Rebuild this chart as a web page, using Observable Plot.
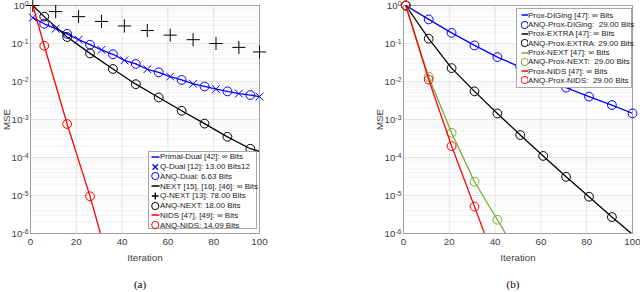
<!DOCTYPE html>
<html><head><meta charset="utf-8">
<script src="https://cdn.jsdelivr.net/npm/d3@7"></script>
<script src="https://cdn.jsdelivr.net/npm/@observablehq/plot@0.6"></script>
<style>
html,body{margin:0;padding:0;background:#fff;}
#wrap{position:relative;width:640px;height:292px;font-family:"Liberation Sans",Arial,Helvetica,sans-serif;overflow:hidden;background:#fff}
.panel{position:absolute;top:0;}
.legend{position:absolute;background:#fff;border:1px solid #a8a8a8;font-size:8px;color:#1a1a1a;box-sizing:border-box}
.legend .row{position:absolute;left:0;white-space:pre;display:flex;align-items:center}
.legend svg{display:block;flex:none}
.cap{position:absolute;font-family:"Liberation Serif","Times New Roman",serif;font-size:11px;color:#000;transform:translateX(-50%);top:278px}
</style></head>
<body><div id="wrap"></div>
<script>
// ---------- shared axis values ----------
const xTicks = [0, 20, 40, 60, 80, 100];
const yTicks = [1e-6, 1e-5, 1e-4, 1e-3, 1e-2, 1e-1, 1];

// ---------- panel (a) ----------
const primalDualIter = [1,6,11,16,21,26,31,36,41,46,51,56,61,66,71,76,81,86,91,96,100];
const primalDualMSE  = [0.48,0.33,0.245,0.18,0.126,0.093,0.068,0.052,0.036,0.029,0.021,0.0174,0.0135,0.011,0.0087,0.0074,0.0063,0.0055,0.0048,0.0044,0.0040];
const qDualIter   = [1,11,21,31,41,51,61,71,81,91,100];
const qDualMSE    = [0.48,0.245,0.126,0.068,0.036,0.021,0.0135,0.0087,0.0063,0.0048,0.0040];
const anqDualIter = [6,16,26,36,46,56,66,76,86,96];
const anqDualMSE  = [0.33,0.18,0.093,0.052,0.029,0.0174,0.011,0.0074,0.0055,0.0044];

const nextIter    = [1,6,16,26,36,46,56,66,76,86,96,100];
const nextMSE     = [1.0,0.51,0.148,0.055,0.0214,0.0085,0.0038,0.0017,0.00078,0.00035,0.00017,0.000145];
const qNextIter   = [1,11,21,31,41,51,61,71,81,91,100];
const qNextMSE    = [1.0,0.69,0.51,0.38,0.29,0.22,0.166,0.126,0.10,0.079,0.060];
const anqNextIter = [6,16,26,36,46,56,66,76,86,96];
const anqNextMSE  = [0.51,0.148,0.055,0.0214,0.0085,0.0038,0.0017,0.00078,0.00035,0.00017];

const nidsIter    = [1,6,16,26,31];
const nidsMSE     = [1.0,0.087,0.00076,0.0000095,0.0000008];
const anqNidsIter = [6,16,26];
const anqNidsMSE  = [0.087,0.00076,0.0000095];

// ---------- panel (b) ----------
const digIter     = [1,11,21,31,41,51,61,71,81,91,100];
const digMSE      = [1.0,0.43,0.19,0.089,0.044,0.024,0.013,0.0069,0.0040,0.0024,0.00145];
const anqDigIter  = [1,11,21,31,41,51,61,71,81,91,100];
const anqDigMSE   = [1.0,0.43,0.19,0.089,0.044,0.024,0.013,0.0069,0.0040,0.0024,0.00145];
const extraIter   = [1,11,21,31,41,51,61,71,81,91,100];
const extraMSE    = [1.0,0.134,0.0225,0.0055,0.00144,0.00039,0.00011,0.000031,0.0000093,0.0000027,0.00000095];
const anqExtraIter= [1,11,21,31,41,51,61,71,81,91];
const anqExtraMSE = [1.0,0.134,0.0225,0.0055,0.00144,0.00039,0.00011,0.000031,0.0000093,0.0000027];
const pnextIter   = [1,11,21,31,41,45];
const pnextMSE    = [1.0,0.0132,0.00045,0.000023,0.0000023,0.0000009];
const anqPnextIter= [1,11,21,31,41];
const anqPnextMSE = [1.0,0.0132,0.00045,0.000023,0.0000023];
const pnidsIter   = [1,11,21,31,36];
const pnidsMSE    = [1.0,0.0112,0.0002,0.0000051,0.0000008];
const anqPnidsIter= [1,11,21,31];
const anqPnidsMSE = [1.0,0.0112,0.0002,0.0000051];

// ---------- legend labels ----------
const legendA = [
  ["line","#0000ff","Primal-Dual [42]: \u221e Bits"],
  ["times","#0000ff","Q-Dual [12]: 13.00 Bits12"],
  ["circle","#0000ff","ANQ-Dual: 6.63 Bits"],
  ["line","#000000","NEXT [15], [16], [46]: \u221e Bits"],
  ["plus","#000000","Q-NEXT [13]: 78.00 Bits"],
  ["circle","#000000","ANQ-NEXT: 18.00 Bits"],
  ["line","#ff0000","NIDS [47], [49]: \u221e Bits"],
  ["circle","#ff0000","ANQ-NIDS: 14.09 Bits"]
];
const legendB = [
  ["line","#0000ff","Prox-DIGing [47]: \u221e Bits"],
  ["circle","#0000ff","ANQ-Prox-DIGing:  29.00 Bits"],
  ["line","#000000","Prox-EXTRA [47]: \u221e Bits"],
  ["circle","#000000","ANQ-Prox-EXTRA: 29.00 Bits"],
  ["line","#77ac30","Prox-NEXT [47]: \u221e Bits"],
  ["circle","#77ac30","ANQ-Prox-NEXT:  29.00 Bits"],
  ["line","#ff0000","Prox-NIDS [47]: \u221e Bits"],
  ["circle","#ff0000","ANQ-Prox-NIDS:  29.00 Bits"]
];

// minor log grid values (2..9 x 10^k)
const minorY = [];
for (let k = -6; k < 0; k++) for (let m = 2; m <= 9; m++) minorY.push(m * Math.pow(10, k));

const SW = 1.3;
const line = (xs, ys, c) => Plot.line(ys, {x: xs, y: ys, stroke: c, strokeWidth: SW, clip: true});
const dots = (xs, ys, c, symbol = "circle", r = 4.4) =>
  Plot.dot(ys, {x: xs, y: ys, stroke: c, fill: "none", strokeWidth: 1, r, symbol, clip: false});

function makePanel({marginLeft, marginRight, marks, yLabelOffset}) {
  const svg = Plot.plot({
    width: 320, height: 268,
    marginTop: 5, marginBottom: 35, marginLeft, marginRight,
    style: {fontFamily: '"Liberation Sans", Arial, Helvetica, sans-serif', fontSize: "9.6px", color: "#404040", background: "white", overflow: "visible"},
    x: {domain: [0, 100]},
    y: {type: "log", domain: [1e-6, 1]},
    marks: [
      Plot.ruleY(minorY, {stroke: "#000", strokeOpacity: 0.05}),
      Plot.gridY(yTicks, {stroke: "#000", strokeOpacity: 0.1}),
      Plot.gridX(xTicks.slice(1, -1), {stroke: "#000", strokeOpacity: 0.1}),
      Plot.frame({stroke: "#a0a0a0"}),
      Plot.axisX(xTicks, {tickSize: 0, tickPadding: 5, label: "Iteration", labelAnchor: "center", labelArrow: "none", labelOffset: 27, fontSize: 9.8, color: "#404040"}),
      Plot.axisY(yTicks, {tickSize: 0, tickPadding: 2, tickFormat: d => "10^" + Math.round(Math.log10(d)), label: "MSE", labelAnchor: "center", labelArrow: "none", labelOffset: yLabelOffset, fontSize: 9.8, color: "#404040"}),
      ...marks
    ]
  });
  // superscript exponents
  d3.select(svg).selectAll('g[aria-label="y-axis tick label"] text').each(function () {
    const t = this.textContent;
    const parts = t.split("^");
    if (parts.length === 2) {
      const s = d3.select(this);
      s.text(parts[0]);
      s.append("tspan").attr("dy", "-0.45em").attr("font-size", "0.7em").text(parts[1]);
    }
  });
  return svg;
}

function makeLegend(entries, {left, top, width, height, row0, rowH, symX, symW, textX}) {
  const div = document.createElement("div");
  div.className = "legend";
  Object.assign(div.style, {left: left + "px", top: top + "px", width: width + "px", height: height + "px"});
  entries.forEach(([kind, color, label], i) => {
    const row = document.createElement("div");
    row.className = "row";
    row.style.top = (row0 + i * rowH - 5) + "px";
    row.style.height = "10px";
    row.style.left = symX + "px";
    const ns = "http://www.w3.org/2000/svg";
    const s = document.createElementNS(ns, "svg");
    s.setAttribute("width", textX - symX);
    s.setAttribute("height", 10);
    const cx = symW / 2, cy = 5;
    let el;
    if (kind === "line") {
      el = document.createElementNS(ns, "line");
      el.setAttribute("x1", 0.5); el.setAttribute("x2", symW); el.setAttribute("y1", cy); el.setAttribute("y2", cy);
      el.setAttribute("stroke-width", 1.5);
    } else if (kind === "circle") {
      el = document.createElementNS(ns, "circle");
      el.setAttribute("cx", cx); el.setAttribute("cy", cy); el.setAttribute("r", 3.6);
      el.setAttribute("fill", "none"); el.setAttribute("stroke-width", 1);
    } else {
      el = document.createElementNS(ns, "path");
      const r = 3.4;
      el.setAttribute("d", kind === "plus"
        ? `M${cx - r},${cy}H${cx + r}M${cx},${cy - r}V${cy + r}`
        : `M${cx - r * 0.8},${cy - r * 0.8}L${cx + r * 0.8},${cy + r * 0.8}M${cx - r * 0.8},${cy + r * 0.8}L${cx + r * 0.8},${cy - r * 0.8}`);
      el.setAttribute("stroke-width", 1.3); el.setAttribute("fill", "none");
    }
    el.setAttribute("stroke", color);
    s.appendChild(el);
    row.appendChild(s);
    const sp = document.createElement("span");
    sp.textContent = label;
    row.appendChild(sp);
    div.appendChild(row);
  });
  return div;
}

const wrap = document.getElementById("wrap");

const svgA = makePanel({
  marginLeft: 30, marginRight: 61, yLabelOffset: 27,
  marks: [
    line(primalDualIter, primalDualMSE, "#0000ff"),
    dots(qDualIter, qDualMSE, "#0000ff", "times", 3.6),
    dots(anqDualIter, anqDualMSE, "#0000ff"),
    line(nextIter, nextMSE, "#000000"),
    dots(qNextIter, qNextMSE, "#000000", "plus", 4.3),
    dots(anqNextIter, anqNextMSE, "#000000"),
    line(nidsIter, nidsMSE, "#ff0000"),
    dots(anqNidsIter, anqNidsMSE, "#ff0000")
  ]
});
svgA.classList.add("panel"); svgA.style.left = "0px";
wrap.appendChild(svgA);

const svgB = makePanel({
  marginLeft: 83, marginRight: 8, yLabelOffset: 27,
  marks: [
    line(digIter, digMSE, "#0000ff"),
    dots(anqDigIter, anqDigMSE, "#0000ff"),
    line(extraIter, extraMSE, "#000000"),
    dots(anqExtraIter, anqExtraMSE, "#000000"),
    line(pnextIter, pnextMSE, "#77ac30"),
    dots(anqPnextIter, anqPnextMSE, "#77ac30"),
    line(pnidsIter, pnidsMSE, "#ff0000"),
    dots(anqPnidsIter, anqPnidsMSE, "#ff0000")
  ]
});
svgB.classList.add("panel"); svgB.style.left = "320px";
wrap.appendChild(svgB);

wrap.appendChild(makeLegend(legendA, {left: 148, top: 151, width: 109, height: 78, row0: 4.8, rowH: 9.75, symX: 1.5, symW: 8.5, textX: 11}));
wrap.appendChild(makeLegend(legendB, {left: 516, top: 8, width: 116, height: 80, row0: 6.3, rowH: 9.3, symX: 3.5, symW: 7.5, textX: 11}));

const capA = document.createElement("div"); capA.className = "cap"; capA.textContent = "(a)"; capA.style.left = "140px";
const capB = document.createElement("div"); capB.className = "cap"; capB.textContent = "(b)"; capB.style.left = "513px";
wrap.appendChild(capA); wrap.appendChild(capB);
</script>
</body></html>
